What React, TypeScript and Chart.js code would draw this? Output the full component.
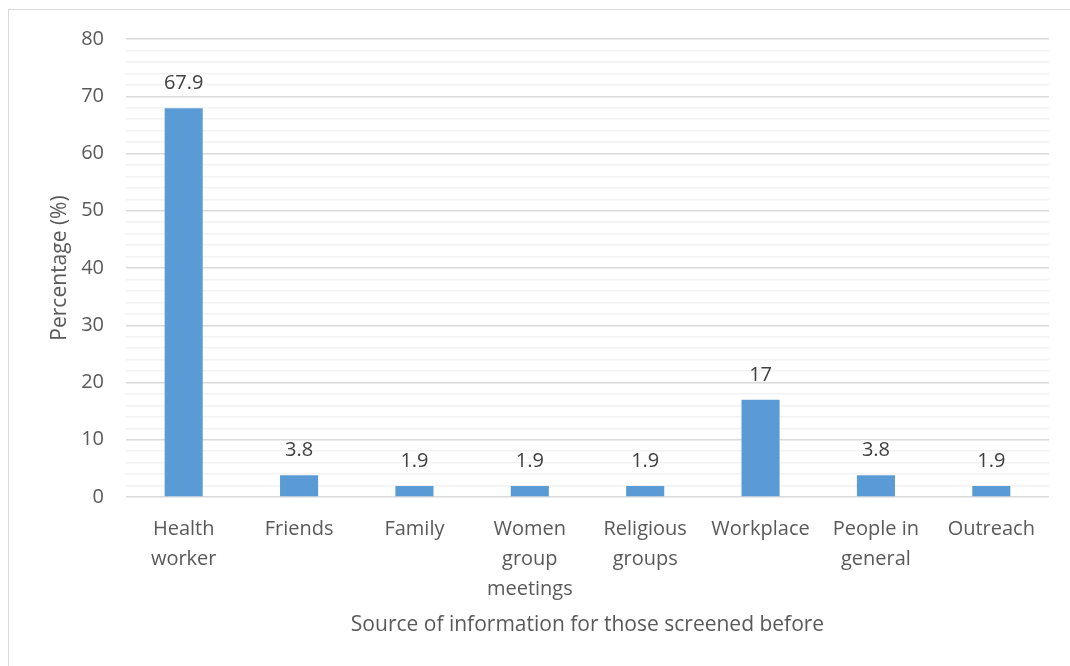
import React, { useEffect, useRef } from "react";
import { Chart, registerables } from "chart.js";

Chart.register(...registerables);

const categories: (string | string[])[] = [
  ["Health", "worker"],
  "Friends",
  "Family",
  ["Women", "group", "meetings"],
  ["Religious", "groups"],
  "Workplace",
  ["People in", "general"],
  "Outreach",
];
const values = [67.9, 3.8, 1.9, 1.9, 1.9, 17, 3.8, 1.9];
const valueLabels = ["67.9", "3.8", "1.9", "1.9", "1.9", "17", "3.8", "1.9"];
const yTickLabels = [0, 10, 20, 30, 40, 50, 60, 70, 80];
const xTitle = "Source of information for those screened before";
const yTitle = "Percentage (%)";

const FONT = "'Open Sans', sans-serif";
const TEXT = "#595959";
const SIZE = 20;

const extrasPlugin = {
  id: "extras",
  afterDatasetsDraw(chart: any) {
    const ctx = chart.ctx;
    const meta = chart.getDatasetMeta(0);
    const area = chart.chartArea;
    ctx.save();
    ctx.font = `${SIZE}px ${FONT}`;
    ctx.fillStyle = "#404040";
    ctx.textAlign = "center";
    ctx.textBaseline = "alphabetic";
    meta.data.forEach((bar: any, i: number) => {
      ctx.fillText(valueLabels[i], bar.x, bar.y - 19);
    });
    ctx.fillStyle = TEXT;
    ctx.textBaseline = "middle";
    ctx.font = `21px ${FONT}`;
    ctx.fillText(xTitle, (area.left + area.right) / 2, 625);
    ctx.translate(60, (area.top + area.bottom) / 2);
    ctx.rotate(-Math.PI / 2);
    ctx.fillText(yTitle, 0, 0);
    ctx.restore();
  },
};

export default function App() {
  const ref = useRef<HTMLCanvasElement>(null);
  useEffect(() => {
    if (!ref.current) return;
    const chart = new Chart(ref.current, {
      type: "bar",
      data: {
        labels: categories,
        datasets: [
          {
            data: values,
            backgroundColor: "#5b9bd5",
            categoryPercentage: 1,
            barPercentage: 0.33,
          },
        ],
      },
      options: {
        animation: false,
        responsive: false,
        layout: { padding: { left: 0, top: 39, right: 21, bottom: 0 } },
        plugins: { legend: { display: false }, tooltip: { enabled: false } },
        scales: {
          x: {
            grid: { display: false },
            border: { display: false },
            ticks: {
              color: TEXT,
              font: { family: FONT, size: SIZE, lineHeight: 1.5 },
              padding: 9,
              maxRotation: 0,
              autoSkip: false,
            },
            afterFit(scale: any) {
              scale.height = 169;
            },
          },
          y: {
            min: 0,
            max: 80,
            border: { display: false },
            grid: {
              drawTicks: false,
              color: (c: any) =>
                c.tick && yTickLabels.includes(Math.round(c.tick.value)) ? "#d9d9d9" : "#f2f2f2",
              lineWidth: 1.5,
            },
            ticks: {
              stepSize: 2,
              autoSkip: false,
              color: TEXT,
              font: { family: FONT, size: SIZE },
              padding: 22,
              callback: (v: any) => (yTickLabels.includes(Math.round(v)) ? String(v) : ""),
            },
            afterFit(scale: any) {
              scale.width = 126;
            },
          },
        },
      },
      plugins: [extrasPlugin],
    });
    return () => chart.destroy();
  }, []);
  return (
    <div style={{ position: "absolute", left: 0, top: 0, width: 1070, height: 666, background: "#fff" }}>
      <div
        style={{
          position: "absolute",
          left: 8,
          top: 9,
          width: 1080,
          height: 680,
          border: "1px solid #d9d9d9",
          boxSizing: "border-box",
        }}
      />
      <canvas ref={ref} width={1070} height={666} style={{ position: "absolute", left: 0, top: 0 }} />
    </div>
  );
}
